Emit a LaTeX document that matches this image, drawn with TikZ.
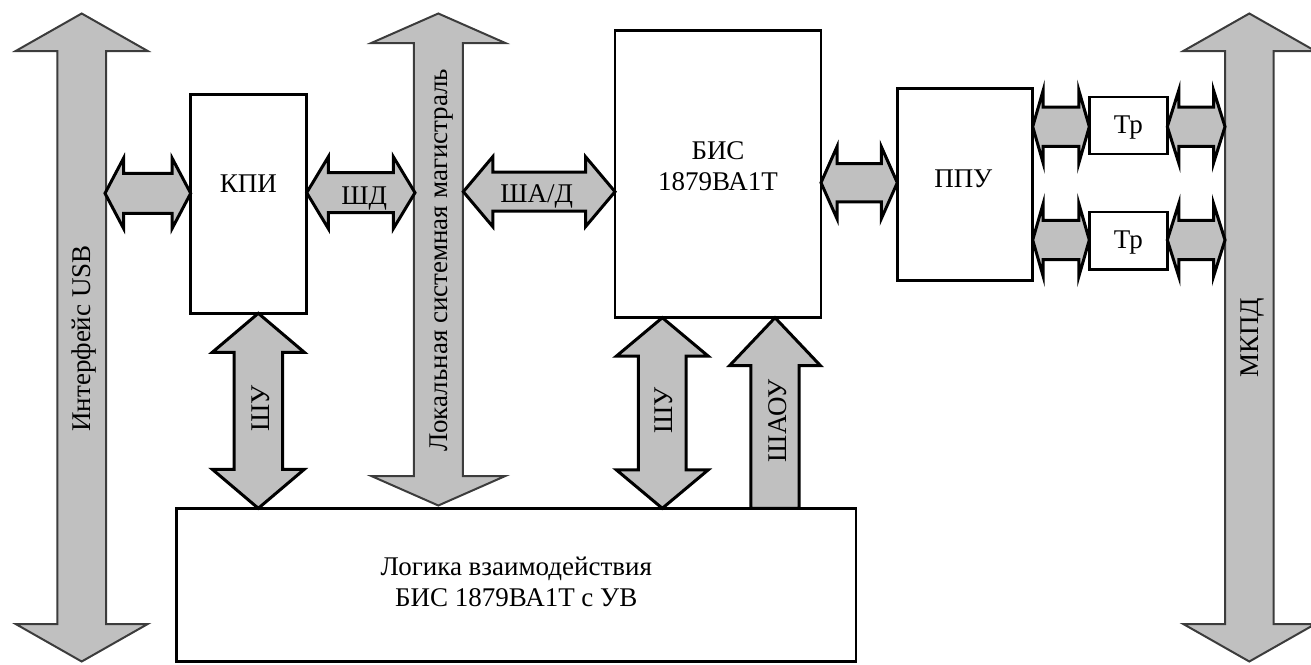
\documentclass[tikz,border=0pt]{standalone}
\usepackage{fontspec}
\setmainfont{Liberation Serif}
\usetikzlibrary{calc}
\definecolor{busfill}{HTML}{C0C0C0}
\definecolor{busline}{HTML}{3C3C3C}
% horizontal double block arrow: style, left tip, right tip, head half, shaft half, head length
\newcommand\hbiarrow[6]{%
\path[#1] let \p1=(#2), \p2=(#3) in
 (\x1,\y1) -- (\x1+#6,\y1+#4) -- (\x1+#6,\y1+#5) -- (\x2-#6,\y1+#5) -- (\x2-#6,\y1+#4)
 -- (\x2,\y1) -- (\x2-#6,\y1-#4) -- (\x2-#6,\y1-#5) -- (\x1+#6,\y1-#5) -- (\x1+#6,\y1-#4) -- cycle;}
% vertical double block arrow: style, top tip, bottom tip, head half, shaft half, head length
\newcommand\vbiarrow[6]{%
\path[#1] let \p1=(#2), \p2=(#3) in
 (\x1,\y1) -- (\x1+#4,\y1-#6) -- (\x1+#5,\y1-#6) -- (\x1+#5,\y2+#6) -- (\x1+#4,\y2+#6)
 -- (\x1,\y2) -- (\x1-#4,\y2+#6) -- (\x1-#5,\y2+#6) -- (\x1-#5,\y1-#6) -- (\x1-#4,\y1-#6) -- cycle;}
\tikzset{
  every node/.style={font=\fontsize{27}{31}\selectfont},
  busarrow/.style={fill=busfill, draw=busline, line width=2pt, line join=miter},
  blockarrow/.style={fill=busfill, draw=black, line width=3pt, line join=miter},
  box/.style={draw=black, fill=white, line width=2.5pt, inner sep=0pt, outer sep=0pt},
  lbl/.style={inner sep=0pt, text height=17.9pt, text depth=0pt},
  vlbl/.style={lbl, rotate=90},
  mlbl/.style={inner sep=0pt, align=center},
}
\begin{document}
\begin{tikzpicture}[x=1pt,y=-1pt]
\useasboundingbox (0,0) rectangle (1311,664);
\clip (0,0) rectangle (1311,664);

% bus tips
\coordinate (usbT) at (81.7,13.5);
\coordinate (usbB) at (81.7,661.5);
\coordinate (lsmT) at (438.3,13.5);
\coordinate (lsmB) at (438.3,505.5);
\coordinate (mkT) at (1249.3,13.5);
\coordinate (mkB) at (1249.3,661.5);

% buses
\vbiarrow{busarrow}{usbT}{usbB}{66}{24.4}{37.5}
\vbiarrow{busarrow}{lsmT}{lsmB}{67}{24.5}{29.5}
\vbiarrow{busarrow}{mkT}{mkB}{66}{24.2}{37.5}

\node[vlbl] (usbl) at (81.7,338.5) {Интерфейс USB};
\node[vlbl] (lsml) at (438.3,260) {Локальная системная магистраль};
\node[vlbl] (mkl) at (1249.3,337.7) {МКПД};

% boxes
\node[box, minimum width=116pt, minimum height=219pt] (kpi) at (248.7,203.8) {};
\node[box, minimum width=206pt, minimum height=287pt] (bis) at (718,174.2) {};
\node[box, minimum width=135.4pt, minimum height=192.4pt] (ppu) at (965,184.5) {};
\node[box, minimum width=78pt, minimum height=57.3pt] (tr1) at (1128.3,125.4) {};
\node[box, minimum width=78pt, minimum height=57.3pt] (tr2) at (1128.3,240.6) {};
\node[box, minimum width=679.3pt, minimum height=153.4pt] (logic) at (516.3,585) {};

\node[lbl] (kpit) at (248.3,183.9) {КПИ};
\node[mlbl] (bist) at (718,166.4) {БИС\\1879ВА1Т};
\node[lbl] (ppút) at (963.3,178.7) {ППУ};
\node[lbl] (tr1t) at (1128.3,124.3) {Тр};
\node[lbl] (tr2t) at (1128.3,240) {Тр};
\node[mlbl] (logict) at (516.3,581.9) {Логика взаимодействия\\БИС 1879ВА1Т с УВ};

% horizontal connectors
\hbiarrow{blockarrow}{105,193.3}{kpi.west}{35}{20}{18.5}
\hbiarrow{blockarrow}{kpi.east |- 0,192.7}{415,192.7}{36}{20}{21.7}
\hbiarrow{blockarrow}{463.3,191.7}{bis.west}{35}{19.5}{29.5}
\hbiarrow{blockarrow}{bis.east |- 0,182.7}{ppu.west}{36}{19.2}{16}
\hbiarrow{blockarrow}{ppu.east |- 0,126.7}{tr1.west}{36.5}{19.7}{10.5}
\hbiarrow{blockarrow}{ppu.east |- 0,240}{tr2.west}{36.5}{19.7}{10.5}
\hbiarrow{blockarrow}{tr1.east |- 0,126.7}{1225,126.7}{36.5}{19.7}{11.5}
\hbiarrow{blockarrow}{tr2.east |- 0,240}{1225,240}{36.5}{19.7}{11.5}

\node[lbl] (shd) at (364.2,195.4) {ШД};
\node[lbl] (shad) at (536.7,193.7) {ША/Д};

% vertical connectors
\vbiarrow{blockarrow}{258.3,0 |- kpi.south}{258.3,0 |- logic.north}{46}{24.2}{39}
\vbiarrow{blockarrow}{662.3,0 |- bis.south}{662.3,0 |- logic.north}{46}{23.9}{38.5}
\path[blockarrow] let \p1=(775,0 |- bis.south), \p2=(775,0 |- logic.north) in
 (\x1,\y1) -- (\x1+45.5,\y1-48) -- (\x1+24.2,\y1-48) -- (\x1+24.2,\y2) -- (\x1-24.2,\y2)
 -- (\x1-24.2,\y1-48) -- (\x1-45.5,\y1-48) -- cycle;

\node[vlbl] (shu1) at (261,408.3) {ШУ};
\node[vlbl] (shu2) at (663.8,410.8) {ШУ};
\node[vlbl] (shaou) at (777.8,420.8) {ШАОУ};
\end{tikzpicture}
\end{document}
